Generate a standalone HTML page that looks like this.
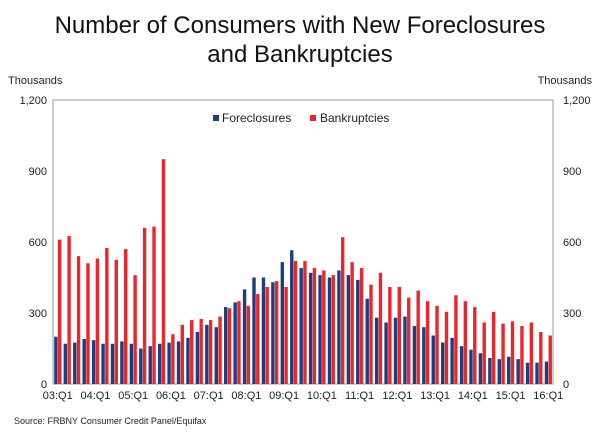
<!DOCTYPE html>
<html><head><meta charset="utf-8"><style>
body{margin:0;background:#fff;width:600px;height:433px;overflow:hidden;font-family:"Liberation Sans",Arial,sans-serif}
</style></head><body>
<svg width="600" height="433" xmlns="http://www.w3.org/2000/svg" font-family="Liberation Sans, Arial, sans-serif">
<text x="300" y="33" text-anchor="middle" font-size="24" fill="#111">Number of Consumers with New Foreclosures</text>
<text x="300" y="62" text-anchor="middle" font-size="24" fill="#111">and Bankruptcies</text>
<text x="8" y="84" font-size="11" fill="#222">Thousands</text>
<text x="592" y="84" text-anchor="end" font-size="11" fill="#222">Thousands</text>
<rect x="53" y="100" width="500" height="284" fill="none" stroke="#999" stroke-width="1"/>
<g id="ticks"></g>
<g id="bars"></g>
<g>
<rect x="213" y="115" width="6" height="6" fill="#1f3d7a"/>
<text x="222" y="122" font-size="12" fill="#222">Foreclosures</text>
<rect x="310" y="115" width="6" height="6" fill="#e8262c"/>
<text x="320" y="122" font-size="12" fill="#222">Bankruptcies</text>
</g>
<text x="14" y="424" font-size="9" fill="#222">Source: FRBNY Consumer Credit Panel/Equifax</text>
</svg>
<script>
const categories=[];for(let y=3;y<=16;y++){for(let q=1;q<=4;q++){if(y===16&&q>1)break;categories.push(String(y).padStart(2,'0')+':Q'+q);}}
const foreclosures=[200,170,175,190,185,170,170,180,170,150,160,170,175,180,195,220,250,240,325,345,400,450,450,430,515,565,490,470,460,450,480,460,440,360,280,260,280,285,245,240,205,175,195,160,145,130,110,105,115,105,90,90,95];
const bankruptcies=[610,625,540,510,530,575,525,570,460,660,665,950,210,250,270,275,270,285,320,350,330,380,410,435,410,520,520,490,480,460,620,515,490,420,470,410,410,365,395,350,330,305,375,350,325,260,305,255,265,245,260,220,205];
const yTicks=[0,300,600,900,1200];
const yTickLabels=["0","300","600","900","1,200"];
const NS="http://www.w3.org/2000/svg";
const X0=53,X1=553,Y0=384,Y1=100,YMAX=1200;
const step=(X1-X0)/categories.length;
const yScale=v=>Y0-(v/YMAX)*(Y0-Y1);
const xScale=i=>X0+i*step;
const bars=document.getElementById('bars');
const ticks=document.getElementById('ticks');
yTicks.forEach((t,i)=>{
 const a=document.createElementNS(NS,'text');
 
 
 a.setAttribute('x',47);a.setAttribute('y',yScale(t)+4);a.setAttribute('text-anchor','end');a.setAttribute('font-size','11');a.setAttribute('fill','#222');
 a.textContent=yTickLabels[i];ticks.appendChild(a);
 const b=document.createElementNS(NS,'text');
 
 
 b.setAttribute('x',563);b.setAttribute('y',yScale(t)+4);b.setAttribute('font-size','11');b.setAttribute('fill','#222');
 b.textContent=yTickLabels[i];ticks.appendChild(b);
});
categories.forEach((c,i)=>{
 const x=xScale(i);
 const f=document.createElementNS(NS,'rect');
 
 
 f.setAttribute('x',x+1.2);f.setAttribute('width',step*0.36);
 f.setAttribute('y',yScale(foreclosures[i]));f.setAttribute('height',Y0-yScale(foreclosures[i]));f.setAttribute('fill','#1f3d7a');
 bars.appendChild(f);
 const b=document.createElementNS(NS,'rect');
 
 
 b.setAttribute('x',x+1.2+step*0.4);b.setAttribute('width',step*0.36);
 b.setAttribute('y',yScale(bankruptcies[i]));b.setAttribute('height',Y0-yScale(bankruptcies[i]));b.setAttribute('fill','#e8262c');
 bars.appendChild(b);
 if(i%4===0){
  const t=document.createElementNS(NS,'text');
  
  
  t.setAttribute('x',x+step/2);t.setAttribute('y',399);t.setAttribute('text-anchor','middle');t.setAttribute('font-size','11');t.setAttribute('fill','#222');
  t.textContent=c;ticks.appendChild(t);
 }
});
</script>
</body></html>
